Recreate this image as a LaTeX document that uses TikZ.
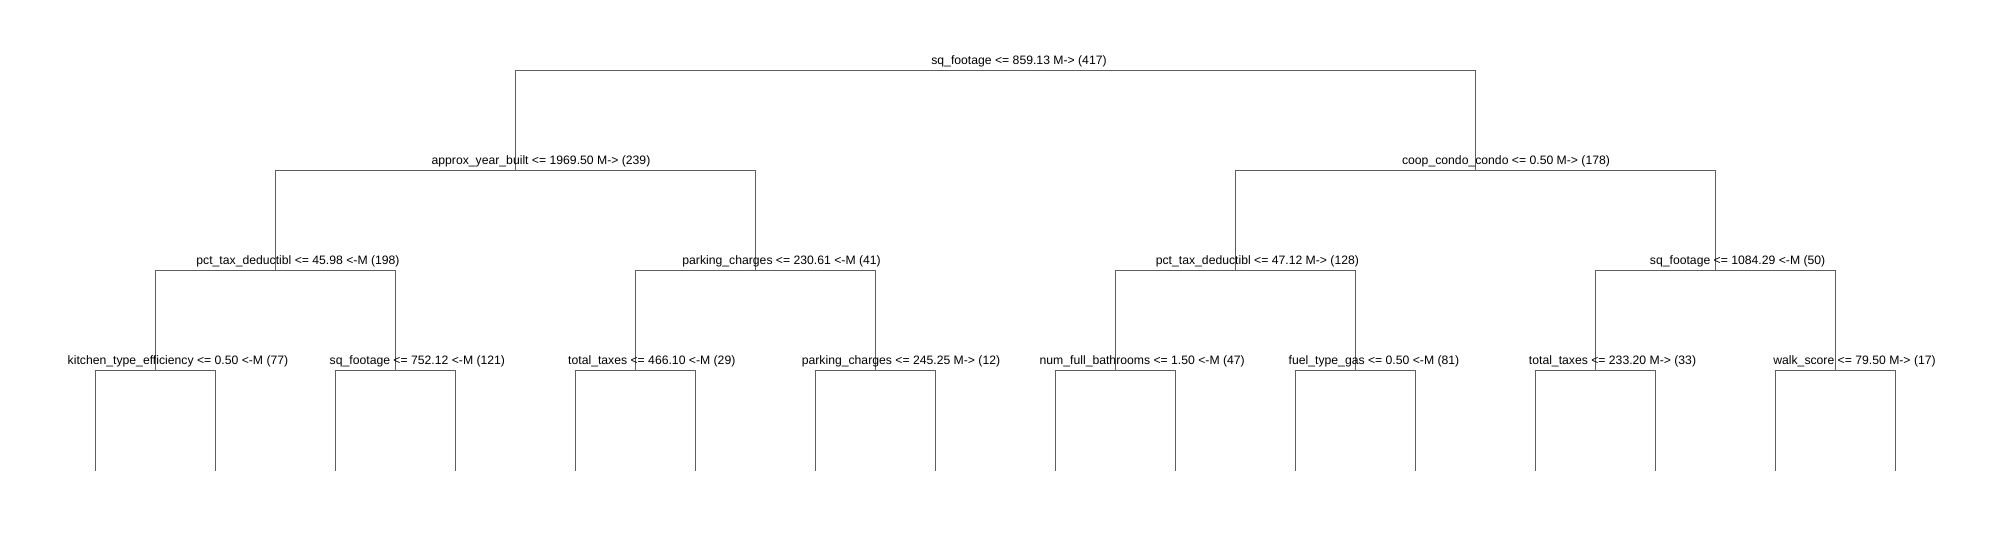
\documentclass[tikz,border=0pt]{standalone}
\usepackage{fontspec}
\setmainfont{Liberation Sans}
\definecolor{treeline}{HTML}{5E5E5E}
\tikzset{
  edge/.style={draw=treeline, line width=1pt},
  lab/.style={anchor=base, inner sep=0pt, font=\fontsize{12.2}{14}\selectfont, text=black}
}
\begin{document}
\begin{tikzpicture}[x=1pt,y=-1pt]
\useasboundingbox (0,0) rectangle (2004,540);
% tree node positions (x, bar y)
\coordinate (r) at (995.3,70.5);
\coordinate (a) at (515.4,170.5);
\coordinate (b) at (1475.2,170.5);
\coordinate (a1) at (275.5,270.5);
\coordinate (a2) at (755.4,270.5);
\coordinate (b1) at (1235.2,270.5);
\coordinate (b2) at (1715.1,270.5);
\coordinate (c1) at (155.6,370.5);
\coordinate (c2) at (395.5,370.5);
\coordinate (c3) at (635.4,370.5);
\coordinate (c4) at (875.4,370.5);
\coordinate (c5) at (1115.3,370.5);
\coordinate (c6) at (1355.2,370.5);
\coordinate (c7) at (1595.1,370.5);
\coordinate (c8) at (1835.1,370.5);
\foreach \i in {0,...,15}{
  \coordinate (l\i) at ({95.7+119.96*\i},470.7);
}
% connectors
\draw[edge] (r) -| (a); \draw[edge] (r) -| (b);
\draw[edge] (a) -| (a1); \draw[edge] (a) -| (a2);
\draw[edge] (b) -| (b1); \draw[edge] (b) -| (b2);
\draw[edge] (a1) -| (c1); \draw[edge] (a1) -| (c2);
\draw[edge] (a2) -| (c3); \draw[edge] (a2) -| (c4);
\draw[edge] (b1) -| (c5); \draw[edge] (b1) -| (c6);
\draw[edge] (b2) -| (c7); \draw[edge] (b2) -| (c8);
\draw[edge] (c1) -| (l0); \draw[edge] (c1) -| (l1);
\draw[edge] (c2) -| (l2); \draw[edge] (c2) -| (l3);
\draw[edge] (c3) -| (l4); \draw[edge] (c3) -| (l5);
\draw[edge] (c4) -| (l6); \draw[edge] (c4) -| (l7);
\draw[edge] (c5) -| (l8); \draw[edge] (c5) -| (l9);
\draw[edge] (c6) -| (l10); \draw[edge] (c6) -| (l11);
\draw[edge] (c7) -| (l12); \draw[edge] (c7) -| (l13);
\draw[edge] (c8) -| (l14); \draw[edge] (c8) -| (l15);
% labels
\node[lab] (tr) at (1019,64.5) {sq\_footage <= 859.13 M-> (417)};
\node[lab] (ta) at (541,164.5) {approx\_year\_built <= 1969.50 M-> (239)};
\node[lab] (tb) at (1506,164.5) {coop\_condo\_condo <= 0.50 M-> (178)};
\node[lab] (ta1) at (298,264.5) {pct\_tax\_deductibl <= 45.98 <-M (198)};
\node[lab] (ta2) at (781.6,264.5) {parking\_charges <= 230.61 <-M (41)};
\node[lab] (tb1) at (1257.4,264.5) {pct\_tax\_deductibl <= 47.12 M-> (128)};
\node[lab] (tb2) at (1737.6,264.5) {sq\_footage <= 1084.29 <-M (50)};
\node[lab] (tc1) at (178,364.5) {kitchen\_type\_efficiency <= 0.50 <-M (77)};
\node[lab] (tc2) at (417.4,364.5) {sq\_footage <= 752.12 <-M (121)};
\node[lab] (tc3) at (651.8,364.5) {total\_taxes <= 466.10 <-M (29)};
\node[lab] (tc4) at (901,364.5) {parking\_charges <= 245.25 M-> (12)};
\node[lab] (tc5) at (1142.2,364.5) {num\_full\_bathrooms <= 1.50 <-M (47)};
\node[lab] (tc6) at (1374,364.5) {fuel\_type\_gas <= 0.50 <-M (81)};
\node[lab] (tc7) at (1612.5,364.5) {total\_taxes <= 233.20 M-> (33)};
\node[lab] (tc8) at (1854.5,364.5) {walk\_score <= 79.50 M-> (17)};
\end{tikzpicture}
\end{document}
